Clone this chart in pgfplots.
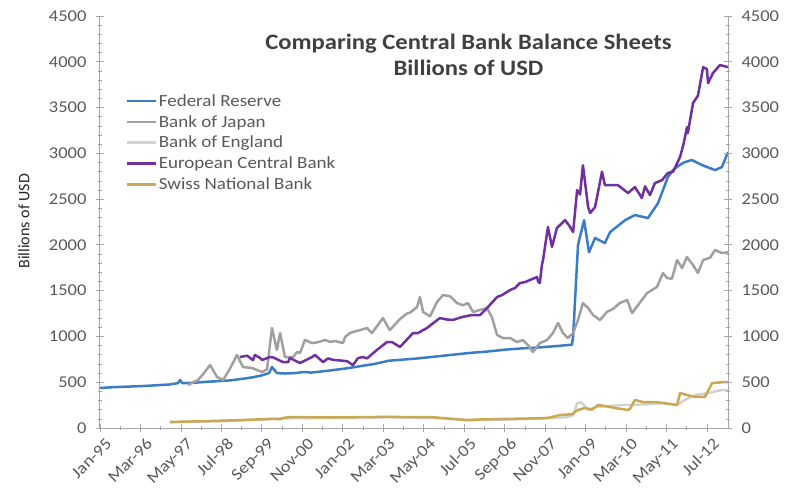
\documentclass[border=0pt]{standalone}
\usepackage{pgfplots}
\pgfplotsset{compat=1.18}
\usepackage{fontspec}
\setmainfont{Carlito}
\newfontfamily\wfont[FakeStretch=1.12]{Carlito}
\definecolor{fedc}{HTML}{3B7CC6}
\definecolor{bojc}{HTML}{A0A0A0}
\definecolor{boec}{HTML}{D2D2D2}
\definecolor{ecbc}{HTML}{7030A0}
\definecolor{snbc}{HTML}{C9A953}
\definecolor{txtc}{HTML}{595959}
\definecolor{axc}{HTML}{A6A6A6}
\begin{document}
\begin{tikzpicture}
\pgfplotsset{
  common/.style={
    scale only axis, width=628pt, height=412pt,
    xmin=0, xmax=217.3, ymin=0, ymax=4500,
    ytick={0,500,...,4500}, minor y tick num=4,
    /pgf/number format/assume math mode=true,
    /pgf/number format/1000 sep={},
    tick label style={font=\wfont\fontsize{16.5}{18}\selectfont, text=txtc},
    axis line style={axc, line width=1pt},
    major tick style={axc, line width=0.8pt},
    minor tick style={axc, line width=0.6pt},
    major tick length=8pt, minor tick length=4pt,
    tick align=center,
  }
}
\begin{axis}[common,
  axis y line*=left, axis x line*=bottom,
  xtick={0,14,...,210}, minor x tick num=1,
  xticklabels={Jan-95,Mar-96,May-97,Jul-98,Sep-99,Nov-00,Jan-02,Mar-03,May-04,Jul-05,Sep-06,Nov-07,Jan-09,Mar-10,May-11,Jul-12},
  xticklabel style={rotate=45, anchor=north east, inner sep=2pt, font=\wfont\fontsize{16.5}{18}\selectfont, yshift=-5pt, xshift=2pt},
  yticklabel style={xshift=-6pt},
  ylabel={Billions of USD},
  ylabel style={font=\fontsize{16}{18}\selectfont, text=black!85, at={(-67pt,0.502)}, anchor=south},
  legend cell align=left,
  legend style={at={(0.04,0.815)}, anchor=north west, draw=none, fill=none,
    font=\wfont\fontsize{17}{19}\selectfont, text=txtc, inner sep=0pt, row sep=3.5pt},
  legend image code/.code={\draw[#1] (0pt,0pt) -- (29pt,0pt);},
  every axis plot/.append style={line width=2.5pt, line join=round},
]
\addplot[fedc] coordinates {
(0,437) (4,445) (8,450) (12,455) (16,460) (20,468) (24,475) (27,490) (27.7,524) (28.5,490)
(33,495) (37,505) (40,510) (45,520) (50,540) (53,555) (56,575) (58.5,600) (59.5,666) (61.2,600)
(64,595) (67.5,600) (70.9,612) (73,605) (76,615) (80,630) (85,650) (90,675) (95,700) (100,735)
(104,745) (110,760) (116,780) (122,800) (128,820) (134,835) (140,855) (146,870) (152,880) (158,895)
(163.3,910) (163.7,995) (165.4,2000) (167.5,2270) (169.2,1920) (171.3,2075) (174.7,2020) (176.5,2140)
(181.7,2270) (185.1,2326) (189.6,2293) (193.1,2457) (196.5,2741) (198.3,2817) (200,2860) (202,2900)
(204.8,2927) (208.3,2872) (212.8,2817) (215.2,2850) (217.3,3014)
};
\addlegendentry{Federal Reserve}
\addplot[bojc] coordinates {
(30.4,470) (33.9,524) (36,600) (38.1,688) (40.5,557) (42.6,524) (45,650) (47.4,797) (49.5,666)
(52.6,655) (56.1,612) (57.8,640) (59.5,1092) (61.2,852) (62.3,1037) (64,775) (66.8,775) (68.2,830)
(69.2,819) (70.9,961) (73.4,928) (75.1,935) (77.9,961) (79.6,940) (81.3,950) (84.1,928) (84.8,994)
(86.5,1037) (87.5,1048) (90,1070) (92.4,1092) (94.1,1037) (97.9,1201) (99.7,1100) (100.3,1070)
(103.8,1190) (106.2,1250) (107.3,1260) (109.7,1321) (110.7,1431) (111.8,1267) (114.2,1220)
(116.6,1376) (118.7,1452) (121.1,1440) (123.5,1365) (125.6,1340) (127.3,1365) (129.1,1267)
(131.5,1290) (133.9,1310) (135.6,1212) (137.4,1016) (139.4,983) (141.9,983) (144.3,939) (146.4,960)
(148.1,906) (149.8,830) (152.2,928) (154.7,961) (156.7,1037) (158.5,1147) (160.2,1037) (161.9,983)
(163.7,1037) (165.4,1179) (167.1,1365) (168.9,1310) (170.6,1234) (173,1179) (175.4,1267) (177.5,1300)
(179.9,1365) (182.4,1398) (184.1,1256) (186.2,1343) (189.3,1474) (192.7,1540) (194.8,1693) (196.2,1638)
(197.9,1630) (199.7,1835) (201.4,1747) (203.1,1868) (205.2,1780) (206.9,1693) (208.7,1835) (211.1,1860)
(212.8,1944) (215.2,1911) (217.3,1920)
};
\addlegendentry{Bank of Japan}
\addplot[boec] coordinates {
(24.2,62) (40,72) (50,85) (63,105) (80,112) (100,118) (115,112) (127,85) (140,92) (150,100) (158,110)
(162,120) (163.7,140) (165.1,270) (166.5,280) (168.9,200) (172,230) (176,240) (180.6,251) (185,255)
(190,260) (194.5,273) (199.7,251) (202,300) (205.9,360) (210.4,380) (213,400) (215.2,415) (217.3,415)
};
\addlegendentry{Bank of England}
\addplot[ecbc] coordinates {
(48.4,775) (50.9,790) (52.9,742) (53.6,797) (55.4,765) (56.1,743) (58.8,775) (60,770) (63.3,720)
(65.1,720) (65.7,764) (69.2,710) (73.4,775) (74.4,797) (77.2,720) (78.9,760) (80.6,745) (85.5,730)
(87.5,688) (89.3,764) (91,775) (92.4,760) (95.8,852) (99.3,939) (101,939) (103.8,885) (108.3,1037)
(110,1037) (113.1,1092) (117.6,1201) (120,1185) (122.1,1180) (125.3,1212) (128.7,1234) (131.5,1234)
(133.9,1310) (137.4,1431) (139,1450) (141.9,1507) (143.6,1529) (145.3,1583) (147.1,1594) (151.2,1649)
(151.6,1600) (152.2,1583) (152.9,1780) (153.3,1835) (155,2195) (156.4,1977) (158.1,2184) (160.9,2271)
(162.6,2200) (163.7,2140) (165.1,2599) (166.1,2550) (167.1,2870) (168.9,2413) (169.6,2348) (171.3,2413)
(173.7,2800) (174.7,2653) (179.2,2653) (182.7,2566) (185.1,2632) (187.5,2512) (188.6,2640) (190.3,2544)
(192,2675) (194.5,2708) (196.5,2785) (198.3,2800) (200.7,2959) (202,3112) (203.1,3287) (203.4,3221)
(205.2,3549) (206.9,3630) (208.7,3942) (210,3920) (210.4,3767) (212.1,3877) (214.5,3964) (217.3,3942)
};
\addlegendentry{European Central Bank}
\addplot[snbc] coordinates {
(24.2,66) (30,70) (40,78) (50,88) (56,95) (60,100) (62.3,95) (63.3,109) (65.7,120) (70,118) (80,115)
(90,118) (100,122) (103.8,120) (115,118) (127,87) (130,92) (138.4,98) (149.8,105) (155,110) (159.2,142)
(163.3,150) (165.4,197) (167.8,218) (170.2,200) (172.3,251) (174.7,240) (178.2,218) (182.7,197)
(183.4,210) (185.1,306) (187.9,284) (192,284) (194.8,273) (199.7,251) (200.7,382) (203.1,360)
(205.9,339) (209.3,339) (211.8,491) (216.3,502) (217.3,500)
};
\addlegendentry{Swiss National Bank}
\node[align=center, font=\wfont\bfseries\fontsize{22}{26}\selectfont, text=black!75] at (axis cs:127.5,4080)
  {Comparing Central Bank Balance Sheets\\Billions of USD};
\end{axis}
\begin{axis}[common,
  axis y line*=right, axis x line=none,
  yticklabel style={xshift=6pt},
]
\end{axis}
\pgfresetboundingbox
\path (current axis.south west) ++(-100pt,-60pt) rectangle ++(798pt,488pt);
\end{tikzpicture}
\end{document}
